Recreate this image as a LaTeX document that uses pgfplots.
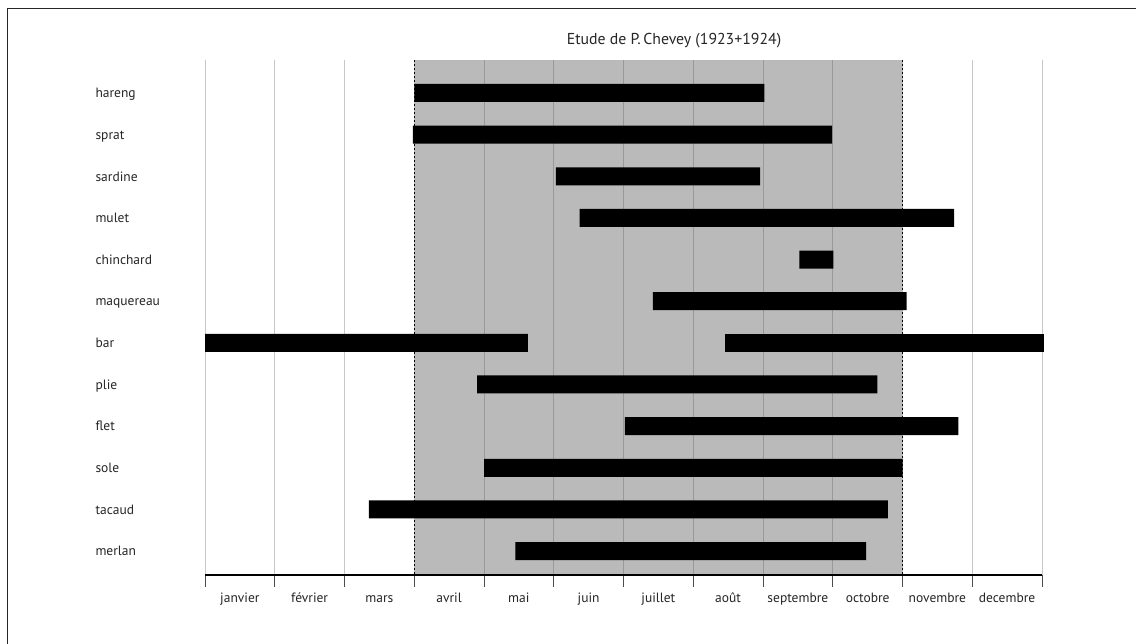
\documentclass[border=0pt]{standalone}
\usepackage{fontspec}
\setmainfont{PT Sans}
\usepackage{pgfplots}
\pgfplotsset{compat=1.18}
\usepackage{pgfplotstable}

\pgfplotstableread{
y start len1 gap len2
1 3.00 5.02 0 0
2 2.98 6.01 0 0
3 5.03 2.93 0 0
4 5.37 5.37 0 0
5 8.52 0.49 0 0
6 6.42 3.64 0 0
7 0.00 4.63 2.82 4.58
8 3.90 5.74 0 0
9 6.02 4.78 0 0
10 4.00 6.00 0 0
11 2.35 7.44 0 0
12 4.45 5.03 0 0
}\data

\pgfplotsset{common/.style={
 at={(205pt,69pt)}, anchor=south west,
 scale only axis, width=837pt, height=515pt,
 xmin=0, xmax=12, ymin=0.2075, ymax=12.575, y dir=reverse,
 clip=false}}

\begin{document}
\begin{tikzpicture}[x=1pt,y=1pt]
\useasboundingbox (0,0) rectangle (1136,644);
\fill[white] (0,0) rectangle (1136,644);
\draw[line width=1.5pt, black!85] (7.5,0) -- (7.5,635.5) -- (1136,635.5);
\node[font=\fontsize{15.8}{18}\selectfont, text=black!85] at (674,603) {Etude de P.\,Chevey (1923+1924)};
% background: shading and month lines
\begin{axis}[common, hide axis]
\pgfplotsinvokeforeach{0,1,2,11,12}{
  \draw[black!22, line width=0.8pt] (axis cs:#1,0.2075) -- (axis cs:#1,12.575);
}
\fill[black!27] (axis cs:3,0.2075) rectangle (axis cs:10,12.575);
\pgfplotsinvokeforeach{4,...,9}{
  \draw[black!40, line width=0.8pt] (axis cs:#1,0.2075) -- (axis cs:#1,12.575);
}
\draw[black, line width=1.4pt, dash pattern=on 2.5pt off 1.5pt] (axis cs:3,0.2075) -- (axis cs:3,12.575);
\draw[black, line width=1.4pt, dash pattern=on 2.5pt off 1.5pt] (axis cs:10,0.2075) -- (axis cs:10,12.575);
\end{axis}
% foreground: bars, ticks, labels
\begin{axis}[common,
 axis x line*=bottom, axis y line*=left,
 y axis line style={draw=none},
 x axis line style={line width=1.4pt, black},
 xtick={0.5,1.5,...,11.5},
 xticklabels={janvier,février,mars,avril,mai,juin,juillet,août,septembre,octobre,novembre,decembre},
 major x tick style={draw=none},
 minor xtick={0,1,...,12},
 minor x tick style={black!70, line width=0.6pt},
 minor tick length=12pt,
 xtick align=outside,
 ytick={1,...,12},
 yticklabels={hareng,sprat,sardine,mulet,chinchard,maquereau,bar,plie,flet,sole,tacaud,merlan},
 ytick style={draw=none},
 yticklabel style={anchor=west, xshift=-113pt, yshift=-1.5pt, text height=9.5pt, text depth=3pt},
 ticklabel style={font=\fontsize{13.5}{16}\selectfont, text=black!85},
 xticklabel style={yshift=-10.5pt, text height=9.5pt, text depth=3pt},
 xbar stacked, bar width=18pt,
]
\addplot[draw=none, fill=none] table[x=start, y=y] {\data};
\addplot[fill=black, draw=none] table[x=len1, y=y] {\data};
\addplot[draw=none, fill=none] table[x=gap, y=y] {\data};
\addplot[fill=black, draw=none] table[x=len2, y=y] {\data};
\end{axis}
\end{tikzpicture}
\end{document}
